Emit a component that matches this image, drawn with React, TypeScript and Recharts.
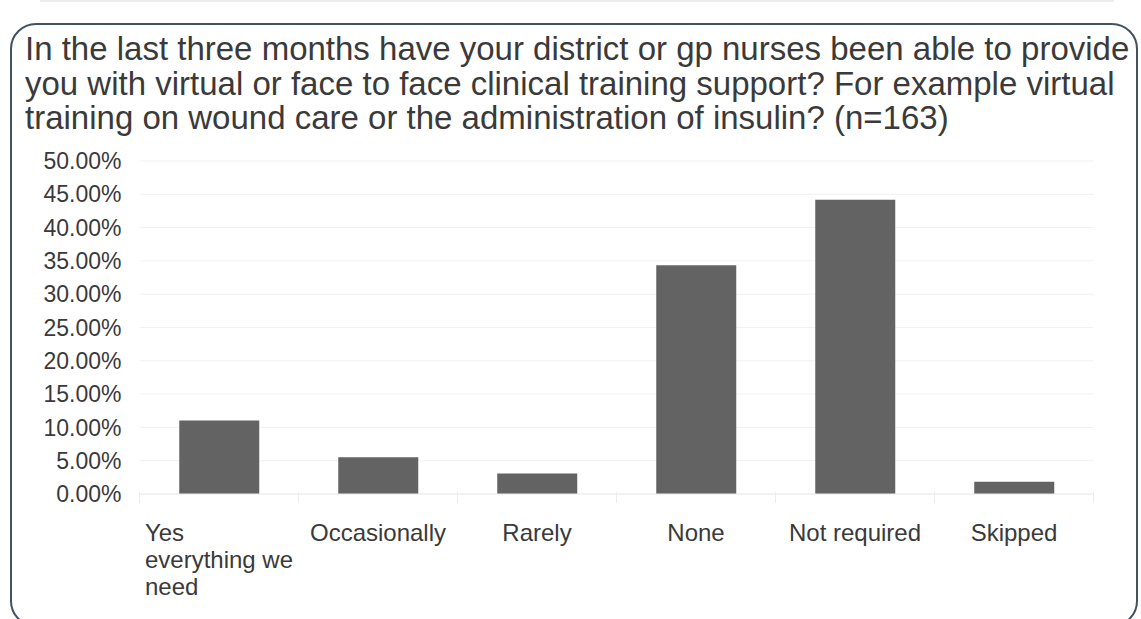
import React from 'react';
import { BarChart, Bar, XAxis, YAxis, CartesianGrid } from 'recharts';

const categories = ['Yes everything we need', 'Occasionally', 'Rarely', 'None', 'Not required', 'Skipped'];
const shares = [0.1104, 0.0552, 0.0307, 0.3436, 0.4417, 0.0184];
const yTicks = [0, 0.05, 0.1, 0.15, 0.2, 0.25, 0.3, 0.35, 0.4, 0.45, 0.5];
const labelLines: Record<string, string[]> = {
  'Yes everything we need': ['Yes', 'everything we', 'need'],
};

const data = categories.map((name, i) => ({ name, value: shares[i] }));

const FONT = '"Liberation Sans", Arial, Helvetica, sans-serif';
const TEXT = '#3a3a3a';

let canvasCtx: CanvasRenderingContext2D | null = null;
const measure = (s: string, size: number) => {
  if (!canvasCtx) canvasCtx = document.createElement('canvas').getContext('2d');
  if (!canvasCtx) return s.length * size * 0.5;
  canvasCtx.font = `${size}px ${FONT}`;
  return canvasCtx.measureText(s).width;
};

const CategoryTick = (props: any) => {
  const { x, y, payload, index } = props;
  const lines = labelLines[payload.value] || [payload.value];
  const half = payload.offset || 0;
  const width = Math.max(...lines.map((l) => measure(l, 24)));
  const left = x - width / 2;
  return (
    <g>
      <line x1={x - half} x2={x - half} y1={y - 10} y2={y + 1} stroke="#ececec" />
      {index === categories.length - 1 && (
        <line x1={x + half} x2={x + half} y1={y - 10} y2={y + 1} stroke="#ececec" />
      )}
      {lines.map((line, i) => (
        <text
          key={i}
          x={lines.length > 1 ? left : x}
          y={y + 39 + i * 27}
          textAnchor={lines.length > 1 ? 'start' : 'middle'}
          fontSize={24}
          fontFamily={FONT}
          fill={TEXT}
        >
          {line}
        </text>
      ))}
    </g>
  );
};

export default function App() {
  return (
    <div style={{ position: 'absolute', left: 0, top: 0, width: 1141, height: 619, overflow: 'hidden', background: '#fff' }}>
      <div style={{ position: 'absolute', left: 40, top: 0, width: 1074, height: 2, background: '#ececec' }} />
      <div
        style={{
          position: 'absolute',
          left: 10,
          top: 23,
          width: 1124,
          height: 600,
          border: '2px solid #3f5363',
          borderRadius: 26,
        }}
      />
      <div
        style={{
          position: 'absolute',
          left: 25,
          top: 32,
          width: 1110,
          fontFamily: FONT,
          fontSize: 33,
          lineHeight: '34.5px',
          color: TEXT,
          whiteSpace: 'pre',
        }}
      >
        {'In the last three months have your district or gp nurses been able to provide\nyou with virtual or face to face clinical training support? For example virtual\ntraining on wound care or the administration of insulin? (n=163)'}
      </div>
      <div style={{ position: 'absolute', left: 0, top: 0 }}>
        <BarChart
          width={1141}
          height={619}
          data={data}
          margin={{ top: 161, right: 47.5, bottom: 0, left: 19.5 }}
          barCategoryGap="25%"
        >
          <CartesianGrid vertical={false} stroke="#f1f1f1" />
          <XAxis
            dataKey="name"
            height={125}
            interval={0}
            tickLine={false}
            axisLine={{ stroke: '#ececec' }}
            tick={<CategoryTick />}
          />
          <YAxis
            width={120}
            domain={[0, 0.5]}
            ticks={yTicks}
            interval={0}
            tickSize={0}
            tickMargin={18}
            axisLine={false}
            tickLine={false}
            tickFormatter={(v: number) => `${(v * 100).toFixed(2)}%`}
            tick={{ fontSize: 23, fontFamily: FONT, fill: TEXT }}
          />
          <Bar dataKey="value" fill="#636363" isAnimationActive={false} />
        </BarChart>
      </div>
    </div>
  );
}
